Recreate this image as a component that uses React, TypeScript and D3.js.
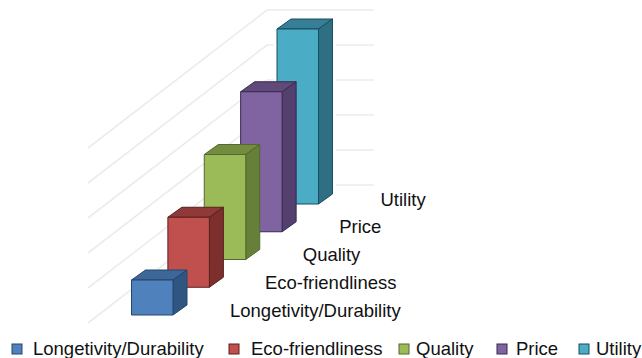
import React from "react";
import * as d3 from "d3";

const categories = ["Longetivity/Durability", "Eco-friendliness", "Quality", "Price", "Utility"];
const values = [1, 2, 3, 4, 5];
const frontColors = ["#4f81bd", "#c0504d", "#9bbb59", "#8064a2", "#4bacc6"];
const topColors = ["#3d6797", "#8f3a38", "#738c40", "#5f4a79", "#377f96"];
const sideColors = ["#2f5680", "#7c2f2d", "#66803a", "#54406f", "#2f6f84"];
const edgeColors = ["#24466e", "#58201e", "#54682f", "#382a50", "#194d60"];
const gridLevels = [0, 1, 2, 3, 4, 5];
const legendSwatchX = [12, 229, 399, 497, 579];
const legendTextX = [33, 251, 416, 516, 596];
const labelNudge = [0, -1.5, 0, 0, 5];

const WIDTH = 642;
const HEIGHT = 358;
const BAR_W = 41.5;
const DEPTH_X = 14;
const DEPTH_Y = 10;
const FONT = "'Liberation Sans', Arial, sans-serif";

export default function App() {
  const xBase = d3.scalePoint<string>().domain(categories).range([131.5, 277]);
  const yBase = d3.scalePoint<string>().domain(categories).range([315, 204]);
  const h = d3.scaleLinear().domain([0, 5]).range([0, 175]);

  const pts = (p: [number, number][]) => d3.line()(p) + "Z";
  const order = categories.map((_, i) => i).reverse();

  return (
    <svg
      width={WIDTH}
      height={HEIGHT}
      viewBox={`0 0 ${WIDTH} ${HEIGHT}`}
      style={{ position: "absolute", left: 0, top: 0, background: "#fff" }}
    >
      <g fill="none" stroke="#ececea" strokeWidth={1.6}>
        {gridLevels.map((v) => {
          const y = 185 - h(v);
          return (
            <path
              key={v}
              d={d3.line()([
                [88, y + 138],
                [267, y],
                [374, y],
              ]) as string}
            />
          );
        })}
      </g>

      {order.map((i) => {
        const c = categories[i];
        const x0 = xBase(c) as number;
        const y0 = yBase(c) as number;
        const top = y0 - h(values[i]);
        const x1 = x0 + BAR_W;
        const silhouette = pts([
          [x0, top],
          [x0 + DEPTH_X, top - DEPTH_Y],
          [x1 + DEPTH_X, top - DEPTH_Y],
          [x1 + DEPTH_X, y0 - DEPTH_Y],
          [x1, y0],
          [x0, y0],
        ]);
        return (
          <g key={c} strokeLinejoin="round">
            {i === categories.length - 1 && (
              <path d={silhouette} fill="#fff" stroke="#fff" strokeWidth={7} />
            )}
            <g stroke={edgeColors[i]} strokeWidth={1}>
              <path
                fill={topColors[i]}
                d={pts([
                  [x0, top],
                  [x0 + DEPTH_X, top - DEPTH_Y],
                  [x1 + DEPTH_X, top - DEPTH_Y],
                  [x1, top],
                ])}
              />
              <path
                fill={sideColors[i]}
                d={pts([
                  [x1, top],
                  [x1 + DEPTH_X, top - DEPTH_Y],
                  [x1 + DEPTH_X, y0 - DEPTH_Y],
                  [x1, y0],
                ])}
              />
              <rect x={x0} y={top} width={BAR_W} height={h(values[i])} fill={frontColors[i]} />
            </g>
          </g>
        );
      })}

      <g fontFamily={FONT} fontSize={18.5} fill="#111">
        {categories.map((c, i) => (
          <text key={c} x={(xBase(c) as number) + 98.5 + labelNudge[i]} y={(yBase(c) as number) + 1.5}>
            {c}
          </text>
        ))}
      </g>

      <g fontFamily={FONT} fontSize={18.5} fill="#111">
        {categories.map((c, i) => (
          <g key={c}>
            <rect
              x={legendSwatchX[i]}
              y={344}
              width={10}
              height={10}
              fill={frontColors[i]}
              stroke={edgeColors[i]}
              strokeWidth={1}
            />
            <text x={legendTextX[i]} y={354.5}>
              {c}
            </text>
          </g>
        ))}
      </g>
    </svg>
  );
}
